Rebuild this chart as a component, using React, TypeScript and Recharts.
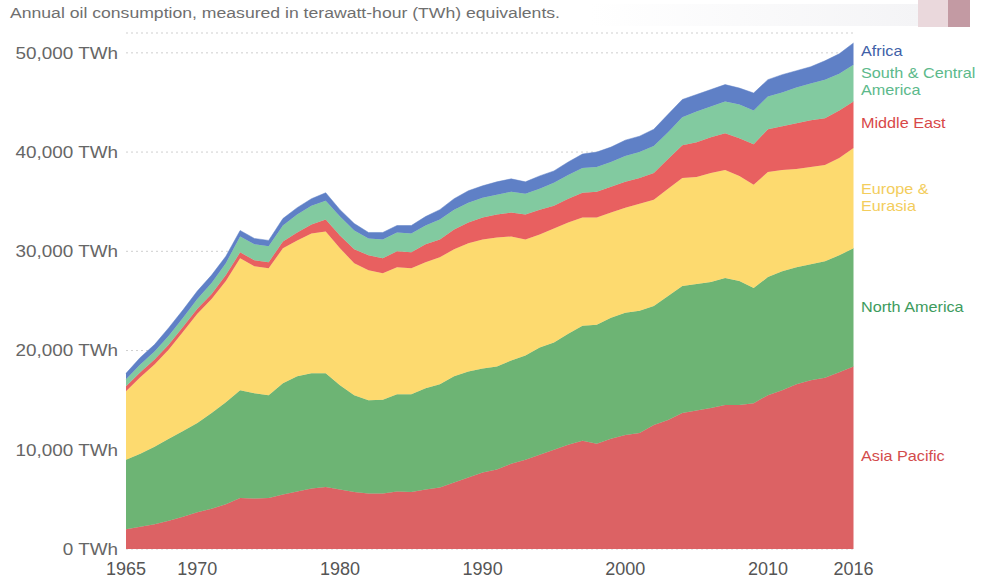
import React from "react";
import { AreaChart, Area, XAxis, YAxis, CartesianGrid } from "recharts";

const years = [
  1965, 1966, 1967, 1968, 1969, 1970, 1971, 1972, 1973, 1974,
  1975, 1976, 1977, 1978, 1979, 1980, 1981, 1982, 1983, 1984,
  1985, 1986, 1987, 1988, 1989, 1990, 1991, 1992, 1993, 1994,
  1995, 1996, 1997, 1998, 1999, 2000, 2001, 2002, 2003, 2004,
  2005, 2006, 2007, 2008, 2009, 2010, 2011, 2012, 2013, 2014,
  2015, 2016,
];

const asiaPacific = [
  2000, 2250, 2500, 2850, 3250, 3700, 4050, 4500, 5150, 5100,
  5150, 5500, 5800, 6100, 6250, 6000, 5750, 5600, 5600, 5800,
  5750, 6000, 6200, 6700, 7200, 7700, 8000, 8600, 9000, 9500,
  10000, 10500, 10900, 10600, 11100, 11500, 11700, 12500, 13000, 13700,
  13950, 14200, 14500, 14500, 14700, 15500, 16000, 16600, 17000, 17250,
  17800, 18400,
];

const northAmerica = [
  7000, 7350, 7800, 8250, 8650, 9000, 9650, 10300, 10850, 10600,
  10350, 11200, 11600, 11600, 11450, 10500, 9750, 9400, 9450, 9800,
  9850, 10200, 10400, 10700, 10700, 10500, 10400, 10400, 10500, 10800,
  10800, 11200, 11600, 12000, 12200, 12300, 12300, 12000, 12500, 12800,
  12750, 12700, 12800, 12500, 11600, 11900, 12000, 11800, 11700, 11750,
  11800, 11900,
];

const europeEurasia = [
  6900, 7700, 8300, 9000, 10000, 11000, 11500, 12200, 13300, 12800,
  12800, 13600, 13700, 14100, 14300, 13800, 13300, 13100, 12750, 12800,
  12700, 12700, 12800, 12800, 12900, 13000, 13000, 12500, 11700, 11400,
  11500, 11200, 10900, 10800, 10600, 10600, 10800, 10700, 10800, 10900,
  10800, 11000, 10900, 10600, 10400, 10600, 10200, 9900, 9800, 9700,
  9800, 10100,
];

const middleEast = [
  500, 500, 500, 500, 500, 500, 500, 600, 600, 600,
  600, 700, 800, 900, 1200, 1300, 1400, 1500, 1500, 1600,
  1600, 1800, 1800, 2000, 2100, 2200, 2300, 2400, 2500, 2500,
  2300, 2400, 2500, 2600, 2600, 2600, 2600, 2700, 3000, 3300,
  3500, 3600, 3700, 3800, 4100, 4300, 4400, 4600, 4700, 4700,
  4800, 4700,
];

const southCentralAmerica = [
  700, 800, 800, 900, 900, 1000, 1100, 1200, 1600, 1600,
  1600, 1600, 1800, 1900, 1900, 1900, 1900, 1700, 1900, 1900,
  1900, 1900, 2000, 2000, 2000, 2000, 2000, 2100, 2100, 2100,
  2300, 2400, 2500, 2500, 2500, 2600, 2600, 2700, 2700, 2800,
  3100, 3100, 3200, 3400, 3400, 3300, 3400, 3600, 3700, 3900,
  3700, 3700,
];

const africa = [
  600, 700, 700, 800, 800, 800, 800, 700, 600, 600,
  600, 700, 700, 700, 800, 700, 700, 600, 700, 700,
  800, 900, 1000, 1100, 1200, 1200, 1300, 1300, 1200, 1300,
  1200, 1300, 1400, 1500, 1500, 1600, 1600, 1700, 1800, 1800,
  1700, 1700, 1700, 1650, 1750, 1700, 1800, 1700, 1700, 1900,
  2000, 2200,
];

const xTicks = [1965, 1970, 1980, 1990, 2000, 2010, 2016];
const yTicks = [0, 10000, 20000, 30000, 40000, 50000];

const series = [
  { key: "asiaPacific", name: "Asia Pacific", fill: "#dc6264" },
  { key: "northAmerica", name: "North America", fill: "#6db474" },
  { key: "europeEurasia", name: "Europe & Eurasia", fill: "#fdda6f" },
  { key: "middleEast", name: "Middle East", fill: "#e86060" },
  { key: "southCentralAmerica", name: "South & Central America", fill: "#82caa0" },
  { key: "africa", name: "Africa", fill: "#5f80c6" },
];

const data = years.map((year, i) => ({
  year,
  asiaPacific: asiaPacific[i],
  northAmerica: northAmerica[i],
  europeEurasia: europeEurasia[i],
  middleEast: middleEast[i],
  southCentralAmerica: southCentralAmerica[i],
  africa: africa[i],
}));

const FONT = "'Liberation Sans', Arial, sans-serif";

const YTick = (props: any) => {
  const { y, payload } = props;
  const label = `${Number(payload.value).toLocaleString("en-US")} TWh`;
  return (
    <text
      transform={`translate(118, ${y}) scale(1.18, 1)`}
      x={0}
      y={0}
      dy="0.36em"
      textAnchor="end"
      fontSize={16}
      fontFamily={FONT}
      fill="#666"
    >
      {label}
    </text>
  );
};

const XTick = (props: any) => {
  const { x, y, payload } = props;
  return (
    <text
      x={x}
      y={y + 26}
      textAnchor="middle"
      fontSize={18}
      fontFamily={FONT}
      fill="#555"
    >
      {payload.value}
    </text>
  );
};

const sideLabels = [
  { lines: ["Africa"], y: 51, color: "#3f5fa8" },
  { lines: ["South & Central", "America"], y: 73, color: "#5cb98b" },
  { lines: ["Middle East"], y: 123, color: "#d84848" },
  { lines: ["Europe &", "Eurasia"], y: 189, color: "#f3cd5c" },
  { lines: ["North America"], y: 307, color: "#3d9b5d" },
  { lines: ["Asia Pacific"], y: 456, color: "#d34b4b" },
];

export default function App() {
  return (
    <div
      style={{
        position: "absolute",
        left: 0,
        top: 0,
        width: 981,
        height: 579,
        background: "#ffffff",
        overflow: "hidden",
      }}
    >
      <div
        style={{
          position: "absolute",
          left: 590,
          top: 4,
          width: 330,
          height: 22,
          background: "linear-gradient(90deg, #ffffff, #f4f4f6)",
        }}
      />
      <div
        style={{
          position: "absolute",
          left: 918,
          top: 0,
          width: 30,
          height: 27,
          background: "#ead8dc",
        }}
      />
      <div
        style={{
          position: "absolute",
          left: 948,
          top: 0,
          width: 22,
          height: 27,
          background: "#c39aa3",
        }}
      />
      <div style={{ position: "absolute", left: 0, top: 0 }}>
        <AreaChart
          width={981}
          height={579}
          data={data}
          margin={{ top: 33, right: 127.5, bottom: 0, left: 0 }}
        >
          <CartesianGrid
            horizontal={true}
            vertical={false}
            stroke="#cfcfcf"
            strokeDasharray="2 3"
          />
          <XAxis
            dataKey="year"
            type="number"
            domain={[1965, 2016]}
            ticks={xTicks}
            interval={0}
            height={30}
            tickSize={0}
            tickMargin={0}
            axisLine={false}
            tickLine={false}
            tick={<XTick />}
          />
          <YAxis
            type="number"
            domain={[0, 52000]}
            ticks={yTicks}
            interval={0}
            width={126}
            axisLine={false}
            tickLine={false}
            tick={<YTick />}
          />
          {series.map((s) => (
            <Area
              key={s.key}
              type="linear"
              dataKey={s.key}
              name={s.name}
              stackId="oil"
              stroke={s.fill}
              strokeWidth={0.5}
              fill={s.fill}
              fillOpacity={1}
              isAnimationActive={false}
              dot={false}
              activeDot={false}
            />
          ))}
        </AreaChart>
      </div>
      <svg
        width={981}
        height={579}
        style={{ position: "absolute", left: 0, top: 0, pointerEvents: "none" }}
      >
        <text
          x={10}
          y={18}
          fontSize={14}
          fontFamily={FONT}
          fill="#6f6f6f"
          textLength={550}
          lengthAdjust="spacingAndGlyphs"
        >
          Annual oil consumption, measured in terawatt-hour (TWh) equivalents.
        </text>
        {sideLabels.map((l) =>
          l.lines.map((line, j) => (
            <text
              key={`${line}-${j}`}
              x={861}
              y={l.y + j * 16.5}
              dy="0.36em"
              fontSize={15}
              fontFamily={FONT}
              fill={l.color}
              transform={`translate(861, 0) scale(1.08, 1) translate(-861, 0)`}
            >
              {line}
            </text>
          ))
        )}
      </svg>
    </div>
  );
}
